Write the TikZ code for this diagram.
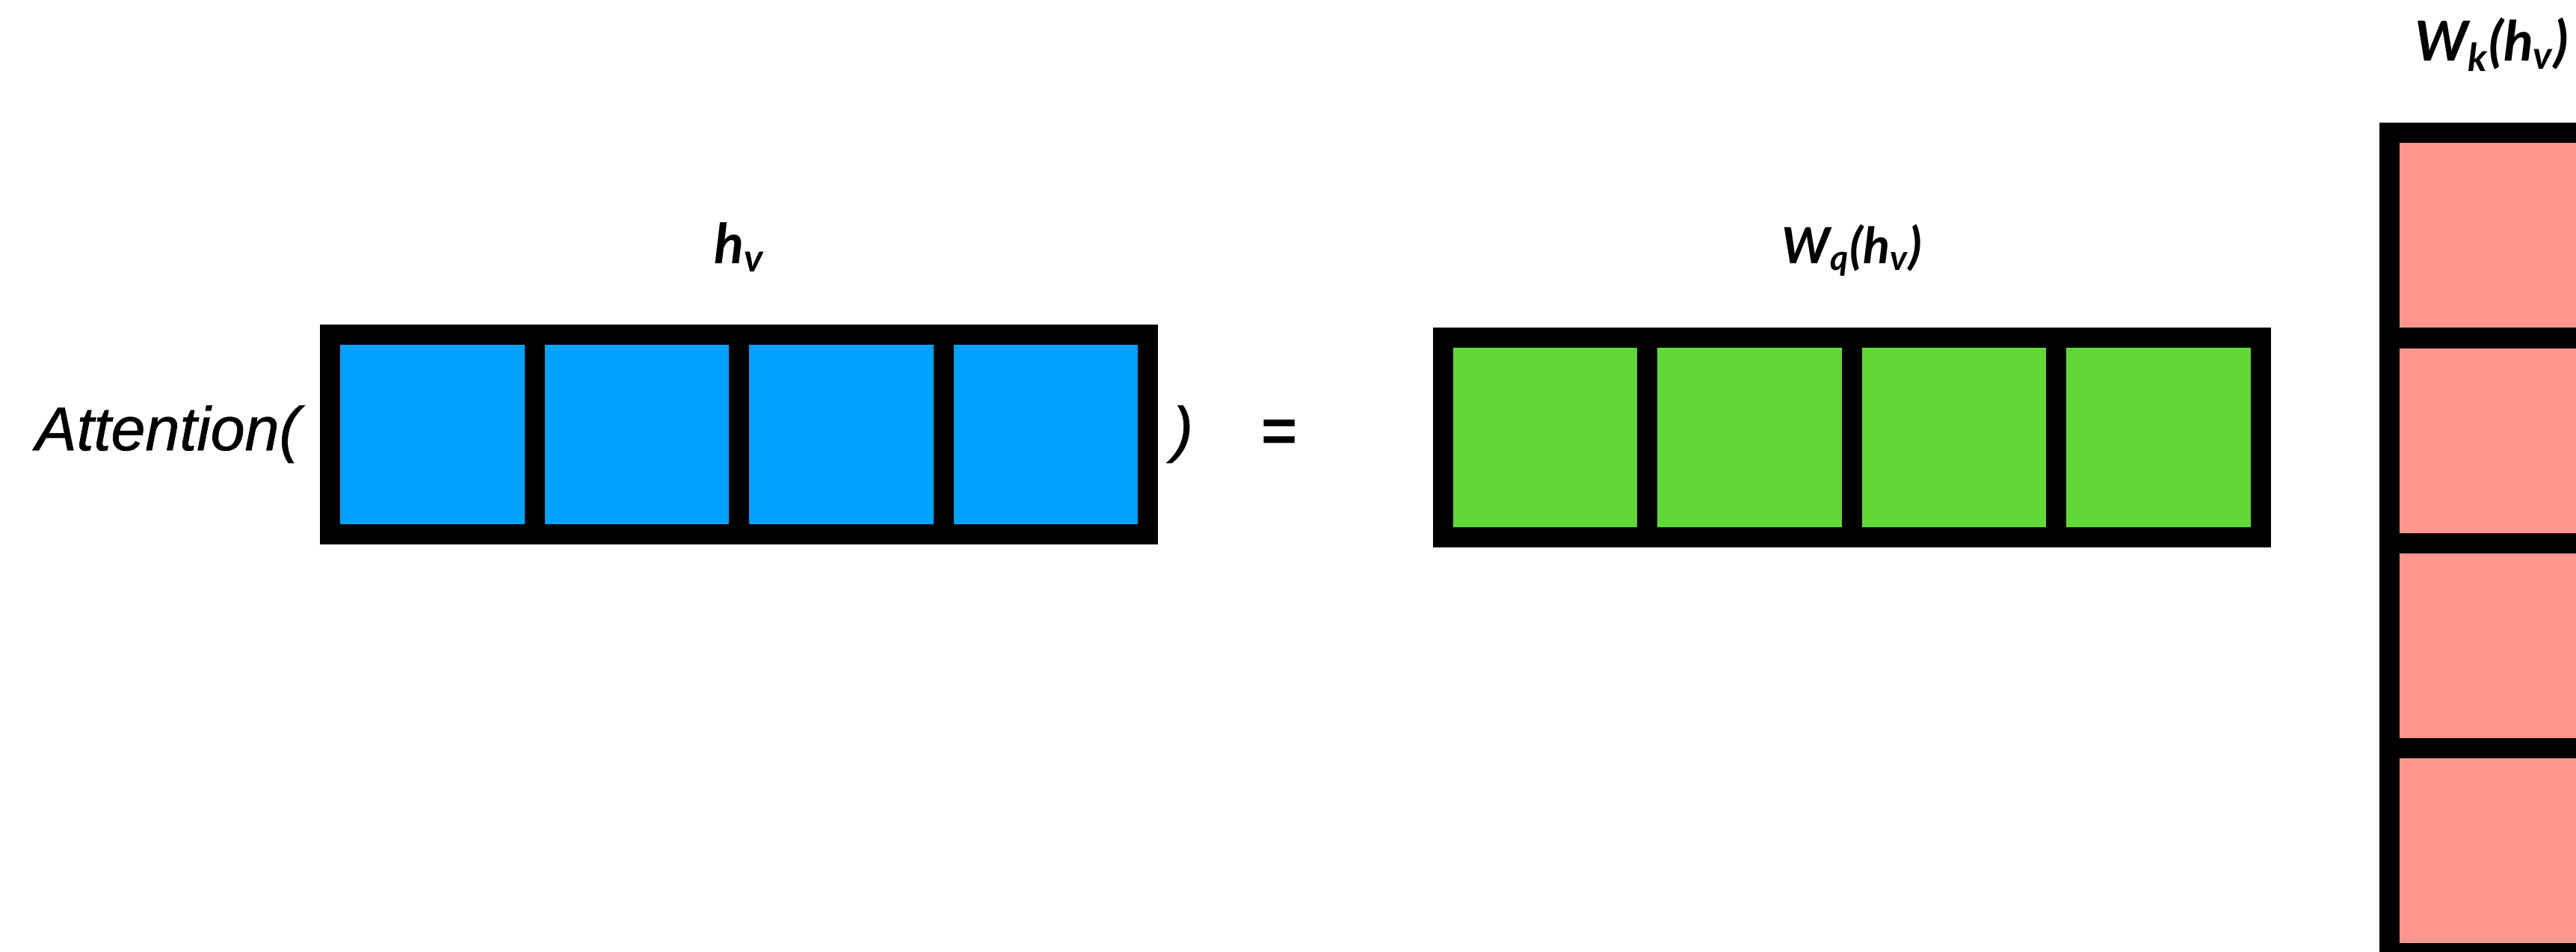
\documentclass[tikz,border=0pt]{standalone}
\usepackage{fontspec}
\setmainfont{Liberation Sans}
\newfontfamily\attnfont{Liberation Sans Italic}[FakeBold=0.8]
\newfontfamily\lblfont{Lato}
\usetikzlibrary{positioning}
\definecolor{cellblue}{HTML}{00A2FF}
\definecolor{cellgreen}{HTML}{61D836}
\definecolor{cellpink}{HTML}{FF968D}

\begin{document}
\begin{tikzpicture}[cell/.style={rectangle, draw=black, line width=0.27cm, inner sep=0pt, outer sep=0pt, minimum width=2.735cm, minimum height=2.67cm}, hcell/.style={cell, fill=cellblue}, qcell/.style={cell, fill=cellgreen}, kcell/.style={cell, fill=cellpink, minimum width=2.74cm, minimum height=2.74cm}, txt/.style={font=\attnfont\fontsize{23.5}{28}\selectfont, inner sep=0pt}, lbl/.style={font=\lblfont\bfseries\itshape\fontsize{21}{26}\selectfont, inner sep=0pt}]
    \useasboundingbox (0,0) rectangle (34.46,12.72);
    \clip (0,0) rectangle (34.46,12.72);

    % input vector h_v
    \node[hcell] (h1) at (5.785,6.915) {};
    \node[hcell, right=0pt of h1] (h2) {};
    \node[hcell, right=0pt of h2] (h3) {};
    \node[hcell, right=0pt of h3] (h4) {};
    \node[lbl, anchor=base] (hlabel) at ([yshift=0.94cm]h2.north east) {h\textsubscript{v}};

    \node[txt, anchor=base east] (attn) at ([xshift=-0.40cm, yshift=-0.215cm]h1.west) {Attention(};
    \node[txt, anchor=base west] (close) at ([xshift=0.32cm, yshift=-0.215cm]h4.east) {)};
    \node[inner sep=0pt, font=\fontsize{23.5}{28}\selectfont\bfseries] (eq) at (17.12,6.89) {=};

    % query W_q(h_v)
    \node[qcell] (q1) at (20.67,6.87) {};
    \node[qcell, right=0pt of q1] (q2) {};
    \node[qcell, right=0pt of q2] (q3) {};
    \node[qcell, right=0pt of q3] (q4) {};
    \node[lbl, font=\lblfont\bfseries\itshape\fontsize{19}{24}\selectfont, anchor=base] (qlabel) at ([yshift=0.995cm]q2.north east) {W\textsubscript{q}(h\textsubscript{v})};

    % key W_k(h_v), stood upright
    \node[kcell] (k1) at (33.33,9.57) {};
    \node[kcell, below=0pt of k1] (k2) {};
    \node[kcell, below=0pt of k2] (k3) {};
    \node[kcell, below=0pt of k3] (k4) {};
    \node[lbl, anchor=base] (klabel) at ([yshift=0.96cm]k1.north) {W\textsubscript{k}(h\textsubscript{v})};
\end{tikzpicture}
\end{document}
